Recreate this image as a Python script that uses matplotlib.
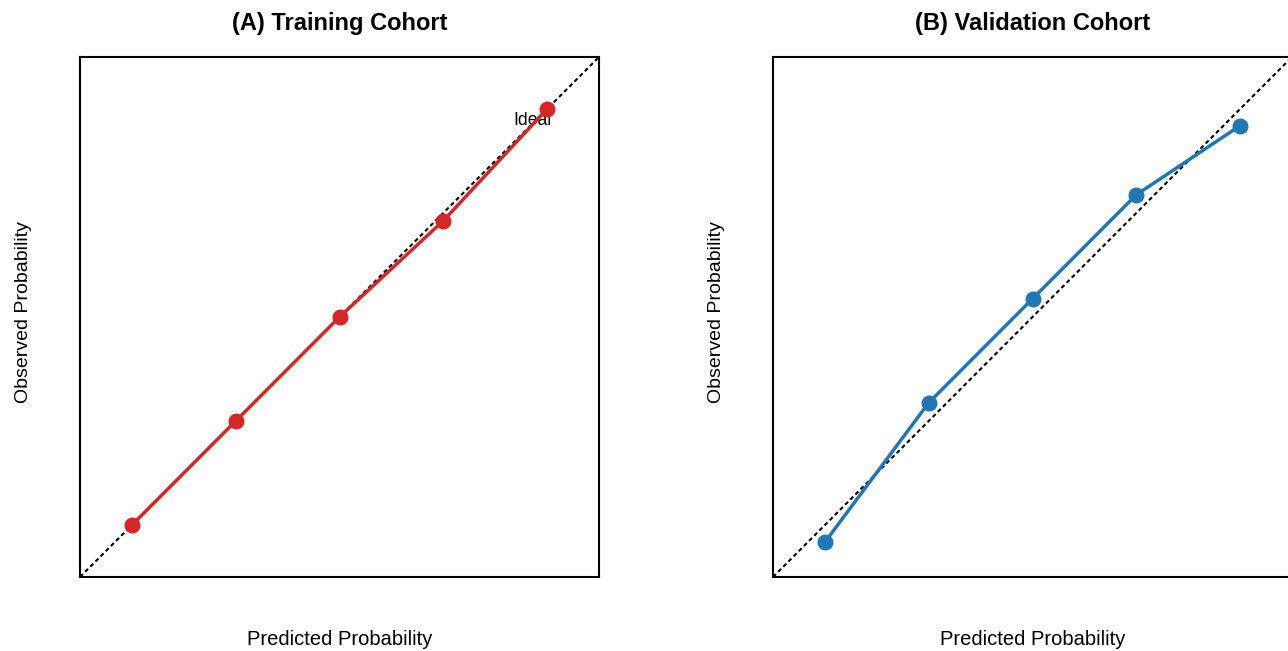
import matplotlib.pyplot as plt
import numpy as np

plt.rcParams['font.family'] = ['Liberation Sans', 'DejaVu Sans']

# calibration points
train_pred = [0.1, 0.3, 0.5, 0.7, 0.9]
train_obs = [0.1, 0.3, 0.5, 0.685, 0.9]
valid_pred = [0.1, 0.3, 0.5, 0.7, 0.9]
valid_obs = [0.067, 0.335, 0.535, 0.735, 0.868]
ideal = [0, 1]

fig = plt.figure(figsize=(12.88, 6.51), dpi=100)
ax1 = fig.add_axes([80 / 1288, 74 / 651, 519 / 1288, 520 / 651])
ax2 = fig.add_axes([773 / 1288, 74 / 651, 519 / 1288, 520 / 651])

panels = [
    (ax1, train_pred, train_obs, '#d62728', '(A) Training Cohort'),
    (ax2, valid_pred, valid_obs, '#1f77b4', '(B) Validation Cohort'),
]

for ax, xs, ys, col, title in panels:
    ax.plot(ideal, ideal, color='black', lw=1.5, linestyle=(0, (2, 1.5)), zorder=1)
    ax.plot(xs, ys, color=col, lw=2.5, marker='o', markersize=10.5, zorder=3)
    ax.set_xlim(0, 1)
    ax.set_ylim(0, 1)
    ax.set_xticks([])
    ax.set_yticks([])
    for s in ax.spines.values():
        s.set_linewidth(1.5)
    ax.set_title(title, fontsize=17, fontweight='bold', pad=19.5)
    ax.set_xlabel('Predicted Probability', fontsize=14.5, labelpad=38.5)
    ax.set_ylabel('Observed Probability', fontsize=14)
    ax.yaxis.set_label_coords(-0.092, 0.51)

ax1.text(0.871, 0.877, 'Ideal', fontsize=12.7, ha='center', va='center', zorder=2)

fig.savefig('out.png', dpi=100)
